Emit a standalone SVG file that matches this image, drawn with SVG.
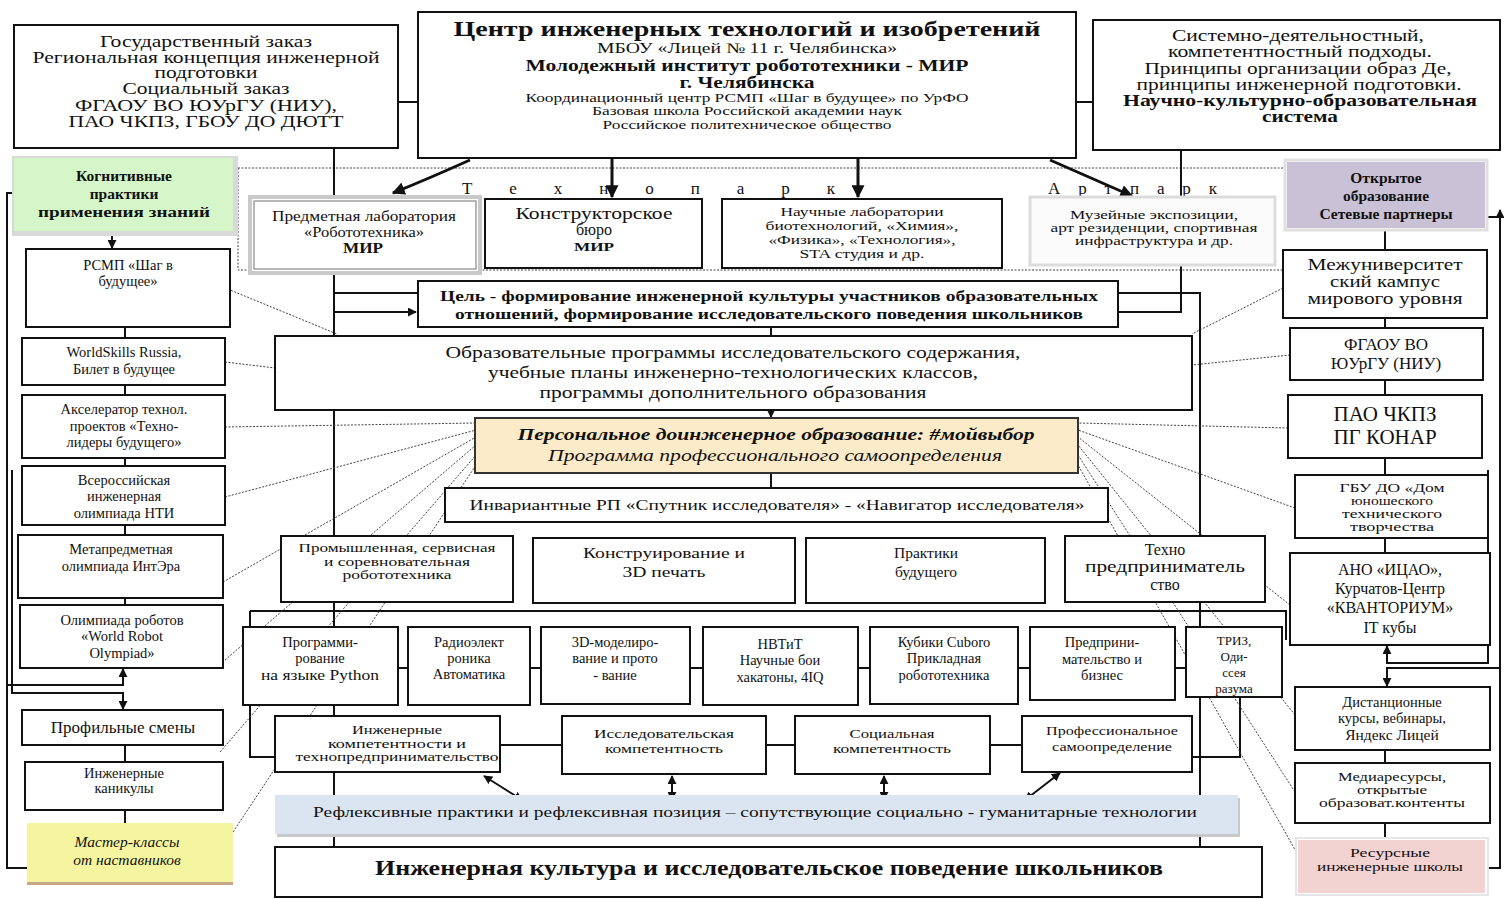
<svg xmlns="http://www.w3.org/2000/svg" width="1504" height="899" viewBox="0 0 1504 899">
<style>
.b{fill:#fff;stroke:#111;stroke-width:2}
.t{font-family:"Liberation Serif","Times New Roman",serif;fill:#111;text-anchor:middle}
.bo{font-weight:bold}
.it{font-style:italic}
.c{stroke:#111;stroke-width:2;fill:none}
.ct{stroke:#111;stroke-width:3;fill:none}
.d{stroke:#444;stroke-width:1;stroke-dasharray:2 1.5;fill:none}
.s12{font-size:12.5px}.s13{font-size:13px}.s14{font-size:14.5px}.s15{font-size:15.5px}.s16{font-size:16px}.s17{font-size:17px}
</style>
<defs>
<marker id="ah" viewBox="0 0 10 10" refX="9" refY="5" markerWidth="9" markerHeight="9" markerUnits="userSpaceOnUse" orient="auto-start-reverse"><path d="M0,0L10,5L0,10z" fill="#111"/></marker>
<marker id="ahb" viewBox="0 0 10 10" refX="9" refY="5" markerWidth="13" markerHeight="13" markerUnits="userSpaceOnUse" orient="auto-start-reverse"><path d="M0,0L10,5L0,10z" fill="#111"/></marker>
</defs>
<rect width="1504" height="899" fill="#fff"/>

<!-- dotted technopark area -->
<g id="technopark-area">
<path class="d" d="M238,168H1283M238,168V270H1283" stroke-width="1.3"/>
<text class="t s17" x="462" y="194" style="text-anchor:start" textLength="373" lengthAdjust="spacing">Т е х н о п а р к</text>
<text class="t s17" x="1048" y="194" style="text-anchor:start" textLength="169" lengthAdjust="spacing">А р т п а р к</text>
</g>

<!-- connectors -->
<g id="connectors">
<path class="c" d="M398,102H418M1076,102H1093"/>
<path class="c" d="M334,148V848M334,293H418M1118,293H1200V848M1181,150V312H1118"/>
<path class="c" d="M334,312H416" marker-end="url(#ah)"/>
<path class="ct" d="M470,160Q430,178 393,193" marker-end="url(#ahb)"/>
<path class="ct" d="M612,158V197" marker-end="url(#ahb)"/>
<path class="ct" d="M858,158V197" marker-end="url(#ahb)"/>
<path class="ct" d="M1050,160L1132,196" marker-end="url(#ahb)"/>
<path class="c" d="M771,327V417" marker-end="url(#ah)"/>
<path class="c" d="M771,473V488"/>
<path class="c" d="M250,611H1286V640M250,611V757H275M1240,697V757H1192"/>
<path class="c" d="M398,668H408M530,668H541M690,668H703M858,668H870M1018,668H1030M1175,668H1186"/>
<path class="c" d="M500,745H562M766,745H795M990,745H1022"/>
<path class="c" d="M484,776L522,800" marker-start="url(#ah)" marker-end="url(#ah)"/>
<path class="c" d="M672,776V800" marker-start="url(#ah)" marker-end="url(#ah)"/>
<path class="c" d="M884,776V800" marker-start="url(#ah)" marker-end="url(#ah)"/>
<path class="c" d="M1060,773L1025,800" marker-start="url(#ah)" marker-end="url(#ah)"/>
<path class="c" d="M112,232V248" marker-end="url(#ah)"/>
<path class="c" d="M125,327V668M125,745V823"/>
<path class="c" d="M14,193H7V868H27"/>
<path class="c" d="M7,685H123V669" marker-end="url(#ah)"/>
<path class="c" d="M12,470V693H123V709" marker-end="url(#ah)"/>
<path class="c" d="M1385,228V645M1385,750V840"/>
<path class="c" d="M1485,868H1500V210" marker-end="url(#ah)"/>
<path class="c" d="M1465,217H1500"/>
<path class="c" d="M1488,470V663H1387V646" marker-end="url(#ah)"/>
<path class="c" d="M1500,668H1387V686" marker-end="url(#ah)"/>
<path class="d" d="M218,285L337,334M225,362L275,368M225,427L476,423M225,497L476,430M223,582L476,437M225,660L476,445M220,752L476,455M233,832L476,465"/>
<path class="d" d="M1283,288L1192,334M1290,355L1192,365M1288,428L1078,423M1295,508L1078,430M1290,605L1078,437M1295,715L1078,445M1295,792L1078,455M1298,855L1078,465"/>
</g>

<!-- top boxes -->
<g id="n-gos">
<rect class="b" x="14" y="25" width="384" height="123"/>
<text class="t s16" x="206" y="47" textLength="212" lengthAdjust="spacingAndGlyphs">Государственный заказ</text>
<text class="t s16" x="206" y="63" textLength="347" lengthAdjust="spacingAndGlyphs">Региональная концепция инженерной</text>
<text class="t s16" x="206" y="78" textLength="103" lengthAdjust="spacingAndGlyphs">подготовки</text>
<text class="t s16" x="206" y="94" textLength="167" lengthAdjust="spacingAndGlyphs">Социальный заказ</text>
<text class="t s16" x="206" y="111" textLength="262" lengthAdjust="spacingAndGlyphs">ФГАОУ ВО ЮУрГУ (НИУ),</text>
<text class="t s16" x="206" y="127" textLength="275" lengthAdjust="spacingAndGlyphs">ПАО ЧКПЗ, ГБОУ ДО ДЮТТ</text>
</g>
<g id="n-center">
<rect class="b" x="418" y="12" width="658" height="146"/>
<text class="t bo" style="font-size:22px" x="747" y="36" textLength="587" lengthAdjust="spacingAndGlyphs">Центр инженерных технологий и изобретений</text>
<text class="t s14" x="747" y="53" textLength="300" lengthAdjust="spacingAndGlyphs">МБОУ «Лицей № 11 г. Челябинска»</text>
<text class="t bo s16" x="747" y="71" textLength="443" lengthAdjust="spacingAndGlyphs">Молодежный институт робототехники - МИР</text>
<text class="t bo s16" x="747" y="88" textLength="135" lengthAdjust="spacingAndGlyphs">г. Челябинска</text>
<text class="t s13" x="747" y="102" textLength="443" lengthAdjust="spacingAndGlyphs">Координационный центр РСМП «Шаг в будущее» по УрФО</text>
<text class="t s13" x="747" y="115" textLength="310" lengthAdjust="spacingAndGlyphs">Базовая школа Российской академии наук</text>
<text class="t s13" x="747" y="129" textLength="289" lengthAdjust="spacingAndGlyphs">Российское политехническое общество</text>
</g>
<g id="n-system">
<rect class="b" x="1093" y="20" width="407" height="130"/>
<text class="t s16" x="1298" y="41" textLength="252" lengthAdjust="spacingAndGlyphs">Системно-деятельностный,</text>
<text class="t s16" x="1300" y="57" textLength="264" lengthAdjust="spacingAndGlyphs">компетентностный подходы.</text>
<text class="t s16" x="1298" y="74" textLength="307" lengthAdjust="spacingAndGlyphs">Принципы организации образ Де,</text>
<text class="t s16" x="1299" y="90" textLength="325" lengthAdjust="spacingAndGlyphs">принципы инженерной подготовки.</text>
<text class="t bo s16" x="1300" y="106" textLength="354" lengthAdjust="spacingAndGlyphs">Научно-культурно-образовательная</text>
<text class="t bo s16" x="1300" y="122" textLength="76" lengthAdjust="spacingAndGlyphs">система</text>
</g>

<!-- technopark boxes -->
<g id="n-lab-robot">
<rect x="250" y="197" width="230" height="76" fill="#fff" stroke="#c9c9c9" stroke-width="4"/>
<rect x="254" y="201" width="222" height="68" fill="#fff" stroke="#888" stroke-width="1.2"/>
<text class="t s14" x="364" y="221" textLength="184" lengthAdjust="spacingAndGlyphs">Предметная лаборатория</text>
<text class="t s14" x="364" y="237" textLength="120" lengthAdjust="spacingAndGlyphs">«Робототехника»</text>
<text class="t bo s14" x="363" y="253" textLength="40" lengthAdjust="spacingAndGlyphs">МИР</text>
</g>
<g id="n-kb">
<rect class="b" x="485" y="199" width="217" height="69"/>
<text class="t s16" x="594" y="219" textLength="157" lengthAdjust="spacingAndGlyphs">Конструкторское</text>
<text class="t s16" x="594" y="235">бюро</text>
<text class="t bo s13" x="594" y="251" textLength="40" lengthAdjust="spacingAndGlyphs">МИР</text>
</g>
<g id="n-sci">
<rect class="b" x="722" y="199" width="280" height="69"/>
<text class="t s13" x="862" y="216" textLength="163" lengthAdjust="spacingAndGlyphs">Научные лаборатории</text>
<text class="t s13" x="862" y="230" textLength="193" lengthAdjust="spacingAndGlyphs">биотехнологий, «Химия»,</text>
<text class="t s13" x="862" y="244" textLength="187" lengthAdjust="spacingAndGlyphs">«Физика», «Технология»,</text>
<text class="t s13" x="862" y="258" textLength="125" lengthAdjust="spacingAndGlyphs">STA студия и др.</text>
</g>
<g id="n-museum">
<rect x="1030" y="197" width="245" height="68" fill="#fbfbfb" stroke="#dcdcdc" stroke-width="3"/>
<text class="t s12" x="1154" y="219" textLength="168" lengthAdjust="spacingAndGlyphs">Музейные экспозиции,</text>
<text class="t s12" x="1154" y="232" textLength="207" lengthAdjust="spacingAndGlyphs">арт резиденции, спортивная</text>
<text class="t s12" x="1154" y="245" textLength="158" lengthAdjust="spacingAndGlyphs">инфраструктура и др.</text>
</g>

<!-- central column -->
<g id="n-goal">
<rect class="b" x="418" y="281" width="700" height="46"/>
<text class="t bo s15" x="769" y="301" textLength="658" lengthAdjust="spacingAndGlyphs">Цель - формирование инженерной культуры участников образовательных</text>
<text class="t bo s15" x="769" y="319" textLength="628" lengthAdjust="spacingAndGlyphs">отношений, формирование исследовательского поведения школьников</text>
</g>
<g id="n-programs">
<rect class="b" x="275" y="336" width="917" height="74"/>
<text class="t s17" x="733" y="358" textLength="575" lengthAdjust="spacingAndGlyphs">Образовательные программы исследовательского содержания,</text>
<text class="t s17" x="733" y="378" textLength="490" lengthAdjust="spacingAndGlyphs">учебные планы инженерно-технологических классов,</text>
<text class="t s17" x="733" y="398" textLength="387" lengthAdjust="spacingAndGlyphs">программы дополнительного образования</text>
</g>
<g id="n-personal">
<rect x="475" y="418" width="603" height="55" fill="#fcebc8" stroke="#333" stroke-width="2"/>
<text class="t bo it s16" x="776" y="440" textLength="517" lengthAdjust="spacingAndGlyphs">Персональное доинженерное образование: #мойвыбор</text>
<text class="t it s16" x="775" y="461" textLength="454" lengthAdjust="spacingAndGlyphs">Программа профессионального самоопределения</text>
</g>
<g id="n-invariant">
<rect class="b" x="445" y="488" width="663" height="34"/>
<text class="t s14" x="777" y="510" textLength="615" lengthAdjust="spacingAndGlyphs">Инвариантные РП «Спутник исследователя» - «Навигатор исследователя»</text>
</g>

<!-- row 1 -->
<g id="n-robotics">
<rect class="b" x="281" y="536" width="232" height="66"/>
<text class="t s13" x="397" y="552" textLength="197" lengthAdjust="spacingAndGlyphs">Промышленная, сервисная</text>
<text class="t s13" x="397" y="566" textLength="146" lengthAdjust="spacingAndGlyphs">и соревновательная</text>
<text class="t s13" x="397" y="579" textLength="109" lengthAdjust="spacingAndGlyphs">робототехника</text>
</g>
<g id="n-3dprint">
<rect class="b" x="533" y="538" width="262" height="65"/>
<text class="t s15" x="664" y="558" textLength="162" lengthAdjust="spacingAndGlyphs">Конструирование и</text>
<text class="t s15" x="664" y="577" textLength="83" lengthAdjust="spacingAndGlyphs">3D печать</text>
</g>
<g id="n-future">
<rect class="b" x="806" y="538" width="239" height="65"/>
<text class="t s15" x="926" y="558">Практики</text>
<text class="t s15" x="926" y="577">будущего</text>
</g>
<g id="n-techno">
<rect class="b" x="1065" y="536" width="200" height="66"/>
<text class="t s16" x="1165" y="555">Техно</text>
<text class="t s16" x="1165" y="572" textLength="160" lengthAdjust="spacingAndGlyphs">предприниматель</text>
<text class="t s16" x="1165" y="590">ство</text>
</g>

<!-- row 2 -->
<g id="n-python">
<rect class="b" x="243" y="627" width="155" height="78"/>
<text class="t s14" x="320" y="647">Программи-</text>
<text class="t s14" x="320" y="663">рование</text>
<text class="t s14" x="320" y="680" textLength="118" lengthAdjust="spacingAndGlyphs">на языке Python</text>
</g>
<g id="n-radio">
<rect class="b" x="408" y="627" width="122" height="78"/>
<text class="t s14" x="469" y="647">Радиоэлект</text>
<text class="t s14" x="469" y="663">роника</text>
<text class="t s14" x="469" y="679">Автоматика</text>
</g>
<g id="n-3dmodel">
<rect class="b" x="541" y="627" width="149" height="77"/>
<text class="t s14" x="615" y="647">3D-моделиро-</text>
<text class="t s14" x="615" y="663">вание и прото</text>
<text class="t s14" x="615" y="680">- вание</text>
</g>
<g id="n-nvtit">
<rect class="b" x="703" y="627" width="155" height="78"/>
<text class="t s14" x="780" y="649">НВТиТ</text>
<text class="t s14" x="780" y="665">Научные бои</text>
<text class="t s14" x="780" y="682">хакатоны, 4IQ</text>
</g>
<g id="n-cuboro">
<rect class="b" x="870" y="627" width="148" height="77"/>
<text class="t s14" x="944" y="647">Кубики Cuboro</text>
<text class="t s14" x="944" y="663">Прикладная</text>
<text class="t s14" x="944" y="680">робототехника</text>
</g>
<g id="n-business">
<rect class="b" x="1030" y="627" width="145" height="73"/>
<text class="t s14" x="1102" y="647">Предприни-</text>
<text class="t s14" x="1102" y="664">мательство и</text>
<text class="t s14" x="1102" y="680">бизнес</text>
</g>
<g id="n-triz">
<rect class="b" x="1186" y="627" width="96" height="70"/>
<text class="t s13" x="1234" y="645">ТРИЗ,</text>
<text class="t s13" x="1234" y="661">Оди-</text>
<text class="t s13" x="1234" y="677">ссея</text>
<text class="t s13" x="1234" y="693">разума</text>
</g>

<!-- competence row -->
<g id="n-eng-comp">
<rect class="b" x="275" y="716" width="225" height="56"/>
<text class="t s12" x="397" y="734" textLength="90" lengthAdjust="spacingAndGlyphs">Инженерные</text>
<text class="t s12" x="397" y="748" textLength="138" lengthAdjust="spacingAndGlyphs">компетентности и</text>
<text class="t s12" x="397" y="761" textLength="203" lengthAdjust="spacingAndGlyphs">технопредпринимательство</text>
</g>
<g id="n-res-comp">
<rect class="b" x="562" y="716" width="204" height="58"/>
<text class="t s13" x="664" y="738" textLength="140" lengthAdjust="spacingAndGlyphs">Исследовательская</text>
<text class="t s13" x="664" y="753" textLength="118" lengthAdjust="spacingAndGlyphs">компетентность</text>
</g>
<g id="n-soc-comp">
<rect class="b" x="795" y="716" width="195" height="58"/>
<text class="t s13" x="892" y="738" textLength="85" lengthAdjust="spacingAndGlyphs">Социальная</text>
<text class="t s13" x="892" y="753" textLength="118" lengthAdjust="spacingAndGlyphs">компетентность</text>
</g>
<g id="n-prof">
<rect class="b" x="1022" y="716" width="170" height="56"/>
<text class="t s13" x="1112" y="735" textLength="132" lengthAdjust="spacingAndGlyphs">Профессиональное</text>
<text class="t s13" x="1112" y="751" textLength="120" lengthAdjust="spacingAndGlyphs">самоопределение</text>
</g>

<g id="n-reflex">
<rect x="277" y="798" width="963" height="39" fill="#c8c8c8"/>
<rect x="275" y="795" width="963" height="39" fill="#dbe5f1"/>
<text class="t s15" x="755" y="817" textLength="884" lengthAdjust="spacingAndGlyphs">Рефлексивные практики и рефлексивная позиция – сопутствующие социально - гуманитарные технологии</text>
</g>
<g id="n-culture">
<rect class="b" x="275" y="847" width="987" height="50"/>
<text class="t bo" style="font-size:20px" x="769" y="875" textLength="788" lengthAdjust="spacingAndGlyphs">Инженерная культура и исследовательское поведение школьников</text>
</g>

<!-- left column -->
<g id="n-cognitive">
<rect x="12" y="156" width="226" height="80" fill="#d9d9d9"/>
<rect x="14" y="158" width="219" height="73" fill="#d5f6c9"/>
<text class="t bo s15" x="124" y="181">Когнитивные</text>
<text class="t bo s15" x="124" y="199">практики</text>
<text class="t bo s15" x="124" y="217" textLength="172" lengthAdjust="spacingAndGlyphs">применения знаний</text>
</g>
<g id="n-rsmp">
<rect class="b" x="26" y="249" width="204" height="78"/>
<text class="t s14" x="128" y="270">РСМП «Шаг в</text>
<text class="t s14" x="128" y="286">будущее»</text>
</g>
<g id="n-worldskills">
<rect class="b" x="22" y="338" width="203" height="47"/>
<text class="t s14" x="124" y="357">WorldSkills Russia,</text>
<text class="t s14" x="124" y="374">Билет в будущее</text>
</g>
<g id="n-accel">
<rect class="b" x="22" y="395" width="203" height="63"/>
<text class="t s14" x="124" y="414">Акселератор технол.</text>
<text class="t s14" x="124" y="431">проектов «Техно-</text>
<text class="t s14" x="124" y="447">лидеры будущего»</text>
</g>
<g id="n-nti">
<rect class="b" x="22" y="466" width="203" height="59"/>
<text class="t s14" x="124" y="485">Всероссийская</text>
<text class="t s14" x="124" y="501">инженерная</text>
<text class="t s14" x="124" y="518">олимпиада НТИ</text>
</g>
<g id="n-intera">
<rect class="b" x="18" y="535" width="205" height="63"/>
<text class="t s14" x="121" y="554">Метапредметная</text>
<text class="t s14" x="121" y="571">олимпиада ИнтЭра</text>
</g>
<g id="n-wro">
<rect class="b" x="20" y="605" width="203" height="63"/>
<text class="t s14" x="122" y="625">Олимпиада роботов</text>
<text class="t s14" x="122" y="641">«World Robot</text>
<text class="t s14" x="122" y="658">Olympiad»</text>
</g>
<g id="n-shifts">
<rect class="b" x="22" y="710" width="201" height="35"/>
<text class="t s17" x="123" y="733">Профильные смены</text>
</g>
<g id="n-holidays">
<rect class="b" x="25" y="762" width="198" height="48"/>
<text class="t s14" x="124" y="778">Инженерные</text>
<text class="t s14" x="124" y="793">каникулы</text>
</g>
<g id="n-master">
<rect x="27" y="825" width="206" height="60" fill="#c9a58a"/>
<rect x="27" y="823" width="206" height="59" fill="#f6f59f"/>
<text class="t it s15" x="127" y="847">Мастер-классы</text>
<text class="t it s15" x="127" y="865">от наставников</text>
</g>

<!-- right column -->
<g id="n-open">
<rect x="1285" y="160" width="202" height="70" fill="#fff" stroke="#e0e0e0" stroke-width="3"/>
<rect x="1287" y="162" width="198" height="66" fill="#c9c1d5"/>
<text class="t bo s15" x="1386" y="183">Открытое</text>
<text class="t bo s15" x="1386" y="201">образование</text>
<text class="t bo s15" x="1386" y="219">Сетевые партнеры</text>
</g>
<g id="n-campus">
<rect class="b" x="1283" y="250" width="204" height="68"/>
<text class="t s16" x="1385" y="270" textLength="155" lengthAdjust="spacingAndGlyphs">Межуниверситет</text>
<text class="t s16" x="1385" y="287" textLength="110" lengthAdjust="spacingAndGlyphs">ский кампус</text>
<text class="t s16" x="1385" y="304" textLength="155" lengthAdjust="spacingAndGlyphs">мирового уровня</text>
</g>
<g id="n-susu">
<rect class="b" x="1290" y="328" width="193" height="52"/>
<text class="t s17" x="1386" y="350">ФГАОУ ВО</text>
<text class="t s17" x="1386" y="369">ЮУрГУ (НИУ)</text>
</g>
<g id="n-chkpz">
<rect class="b" x="1288" y="395" width="194" height="63"/>
<text class="t" style="font-size:21px" x="1385" y="421">ПАО ЧКПЗ</text>
<text class="t" style="font-size:21px" x="1385" y="444">ПГ КОНАР</text>
</g>
<g id="n-dutt">
<rect class="b" x="1295" y="475" width="193" height="63"/>
<text class="t" style="font-size:12px" x="1392" y="492" textLength="105" lengthAdjust="spacingAndGlyphs">ГБУ ДО «Дом</text>
<text class="t" style="font-size:12px" x="1392" y="505" textLength="82" lengthAdjust="spacingAndGlyphs">юношеского</text>
<text class="t" style="font-size:12px" x="1392" y="518" textLength="100" lengthAdjust="spacingAndGlyphs">технического</text>
<text class="t" style="font-size:12px" x="1392" y="531" textLength="84" lengthAdjust="spacingAndGlyphs">творчества</text>
</g>
<g id="n-ano">
<rect class="b" x="1290" y="553" width="200" height="92"/>
<text class="t s16" x="1390" y="575">АНО «ИЦАО»,</text>
<text class="t s16" x="1390" y="594">Курчатов-Центр</text>
<text class="t s16" x="1390" y="613">«КВАНТОРИУМ»</text>
<text class="t s16" x="1390" y="633">IT кубы</text>
</g>
<g id="n-distance">
<rect class="b" x="1295" y="687" width="195" height="63"/>
<text class="t s14" x="1392" y="707">Дистанционные</text>
<text class="t s14" x="1392" y="723">курсы, вебинары,</text>
<text class="t s15" x="1392" y="740">Яндекс Лицей</text>
</g>
<g id="n-media">
<rect class="b" x="1295" y="763" width="195" height="60"/>
<text class="t s12" x="1392" y="781" textLength="108" lengthAdjust="spacingAndGlyphs">Медиаресурсы,</text>
<text class="t s12" x="1392" y="794" textLength="70" lengthAdjust="spacingAndGlyphs">открытые</text>
<text class="t s12" x="1392" y="807" textLength="146" lengthAdjust="spacingAndGlyphs">образоват.контенты</text>
</g>
<g id="n-resource">
<rect x="1296" y="838" width="192" height="57" fill="#fff" stroke="#e6e6e6" stroke-width="2"/>
<rect x="1298" y="840" width="187" height="53" fill="#f3d2d2"/>
<text class="t s13" x="1390" y="857" textLength="80" lengthAdjust="spacingAndGlyphs">Ресурсные</text>
<text class="t s13" x="1390" y="871" textLength="146" lengthAdjust="spacingAndGlyphs">инженерные школы</text>
</g>
</svg>
